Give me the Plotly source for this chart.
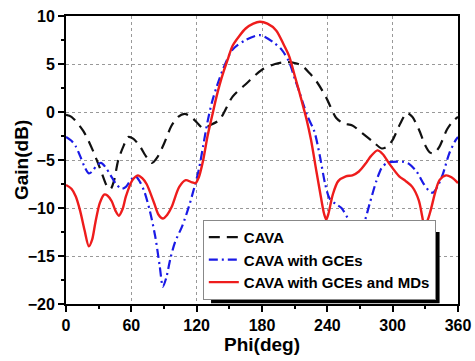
import plotly.graph_objects as go

# ---- data ----
cava_phi = [0, 5, 16, 25, 32, 38, 41, 44, 48, 53, 57, 62, 68, 74, 79, 84, 90, 97, 103, 109,
            115, 121, 126, 132, 141, 153, 166, 180, 192, 202, 210, 217, 224, 230, 239, 248,
            255, 263, 272, 282, 290, 295, 300, 307, 313, 318, 324, 330, 334, 338, 343, 350, 355, 360]
cava_gain = [-0.3, -0.5, -2.0, -4.1, -6.1, -7.8, -8.0, -7.2, -5.0, -3.5, -2.6, -2.8, -3.6, -4.7,
             -5.3, -4.7, -3.3, -1.4, -0.5, -0.2, -0.5, -1.2, -1.7, -1.4, -0.8, 1.6, 3.0, 4.4, 5.0,
             5.2, 5.1, 4.8, 4.0, 3.2, 1.5, -0.6, -1.2, -1.4, -2.2, -3.1, -3.8, -3.6, -2.9, -1.2,
             -0.1, -0.5, -1.8, -3.5, -4.2, -4.3, -3.6, -1.8, -1.0, -0.5]

gce_phi = [0, 5, 9, 13, 17, 21, 24, 28, 32, 36, 41, 46, 51, 55, 60, 64, 68, 72, 77, 82, 86, 89,
           92, 96, 100, 107, 113, 118, 122, 126, 130, 134, 138, 144, 153, 165, 178, 190, 198,
           205, 210, 214, 218, 222, 228, 233, 238, 242, 248, 253, 260, 266, 270, 274, 279, 285,
           290, 295, 300, 310, 315, 322, 328, 334, 337, 341, 346, 352, 358, 360]
gce_gain = [-2.6, -3.0, -3.6, -4.6, -5.7, -6.4, -6.2, -5.6, -5.3, -5.7, -6.6, -7.5, -8.0, -7.8,
            -7.0, -6.7, -7.3, -8.3, -10.3, -13.0, -16.0, -18.2, -17.3, -15.2, -13.6, -11.8, -9.8,
            -7.8, -6.0, -3.5, -1.0, 1.0, 2.5, 4.4, 6.5, 7.5, 8.0, 7.3, 6.5, 5.2, 3.5, 2.2, 0.8,
            -0.5, -2.0, -4.5, -7.5, -9.0, -9.6, -10.0, -11.3, -12.4, -12.6, -11.5, -9.5, -7.2,
            -5.8, -5.3, -5.2, -5.2, -5.4, -6.2, -7.4, -8.3, -8.4, -7.8, -6.5, -4.3, -2.9, -2.6]

md_phi = [0, 5, 9, 13, 17, 21, 24, 27, 31, 35, 38, 42, 45.5, 48.5, 52, 55, 61, 66, 70, 74, 81,
          85, 89, 93, 97, 104, 110, 115, 119, 122, 126, 130, 134, 138, 141, 145, 148, 153, 159,
          165, 172, 178, 185, 193, 200, 205, 210, 214, 218, 221, 225, 230, 234, 237, 239, 241,
          245, 250, 257, 263, 269, 275, 280, 286, 291, 297, 306, 312, 318, 324, 327, 329, 332,
          335, 339, 343, 349, 354, 360]
md_gain = [-7.6, -8.0, -8.8, -10.3, -12.3, -14.0, -13.3, -11.5, -9.5, -8.6, -8.7, -9.3, -10.3,
           -10.8, -10.1, -8.8, -7.1, -6.6, -6.9, -7.5, -9.5, -10.7, -11.1, -10.7, -9.9, -7.8,
           -7.1, -7.3, -7.4, -6.8, -5.0, -2.5, -0.5, 1.5, 2.8, 4.3, 5.3, 6.9, 7.9, 8.7, 9.2, 9.4,
           9.2, 8.5, 7.0, 5.8, 3.8, 2.2, 0.5, -0.8, -2.9, -6.2, -8.8, -10.6, -11.2, -10.6, -8.6,
           -7.2, -6.7, -6.6, -6.2, -5.4, -4.6, -4.0, -4.4, -5.4, -6.7, -7.2, -7.8, -9.2, -10.8,
           -11.8, -11.3, -10.2, -8.4, -7.1, -6.6, -6.8, -7.4]

series_names = ["CAVA", "CAVA with GCEs", "CAVA with GCEs and MDs"]
x_ticks = [0, 60, 120, 180, 240, 300, 360]
y_ticks = [-20, -15, -10, -5, 0, 5, 10]

FONT = "Liberation Sans, Arial, sans-serif"

fig = go.Figure()
fig.add_trace(go.Scatter(x=cava_phi, y=cava_gain, mode="lines", name=series_names[0],
                         line=dict(color="#111111", width=2.2, dash="11px,7px", shape="spline", smoothing=0.8)))
fig.add_trace(go.Scatter(x=gce_phi, y=gce_gain, mode="lines", name=series_names[1],
                         line=dict(color="#1a1ae6", width=2.2, dash="9px,4px,2px,4px", shape="spline", smoothing=0.8)))
fig.add_trace(go.Scatter(x=md_phi, y=md_gain, mode="lines", name=series_names[2],
                         line=dict(color="#ee1c1c", width=2.4, shape="spline", smoothing=0.8)))

# legend drop shadow (sits behind the legend box, peeks out right and bottom)
fig.add_shape(type="rect", xref="paper", yref="paper", x0=0.37, x1=0.953, y0=0.003, y1=0.25,
              fillcolor="black", line=dict(width=0), layer="above")

axis_common = dict(
    showline=True, linecolor="black", linewidth=2, mirror=True,
    ticks="outside", ticklen=6, tickwidth=1.5, tickcolor="black",
    showgrid=True, gridcolor="#999999", griddash="dot", gridwidth=1.2,
    zeroline=False, automargin=False,
    tickfont=dict(family=FONT, size=16, color="black", weight="bold"),
)

fig.update_xaxes(range=[0, 360], tickvals=x_ticks,
                 minor=dict(tickvals=[30, 90, 150, 210, 270, 330], ticklen=3, ticks="outside",
                            tickcolor="black", showgrid=False),
                 title=dict(text="Phi(deg)", font=dict(family=FONT, size=19, color="black", weight="bold"),
                            standoff=2),
                 **axis_common)
fig.update_yaxes(range=[-20, 10], tickvals=y_ticks,
                 minor=dict(tickvals=[-17.5, -12.5, -7.5, -2.5, 2.5, 7.5], ticklen=3, ticks="outside",
                            tickcolor="black", showgrid=False),
                 **axis_common)

fig.add_annotation(text="Gain(dB)", textangle=-90, xref="paper", yref="paper", x=0, y=0.5,
                   xanchor="center", yanchor="middle", xshift=-45, showarrow=False,
                   font=dict(family=FONT, size=19, color="black", weight="bold"))

fig.update_layout(
    width=475, height=361,
    margin=dict(l=66, r=17, t=16, b=57),
    paper_bgcolor="white", plot_bgcolor="white",
    legend=dict(x=0.349, y=0.292, xanchor="left", yanchor="top",
                bgcolor="white", bordercolor="#888888", borderwidth=1,
                font=dict(family=FONT, size=15, color="black", weight="bold"),
                tracegroupgap=0, itemwidth=30),
    showlegend=True,
)

fig.write_html("out.html")
